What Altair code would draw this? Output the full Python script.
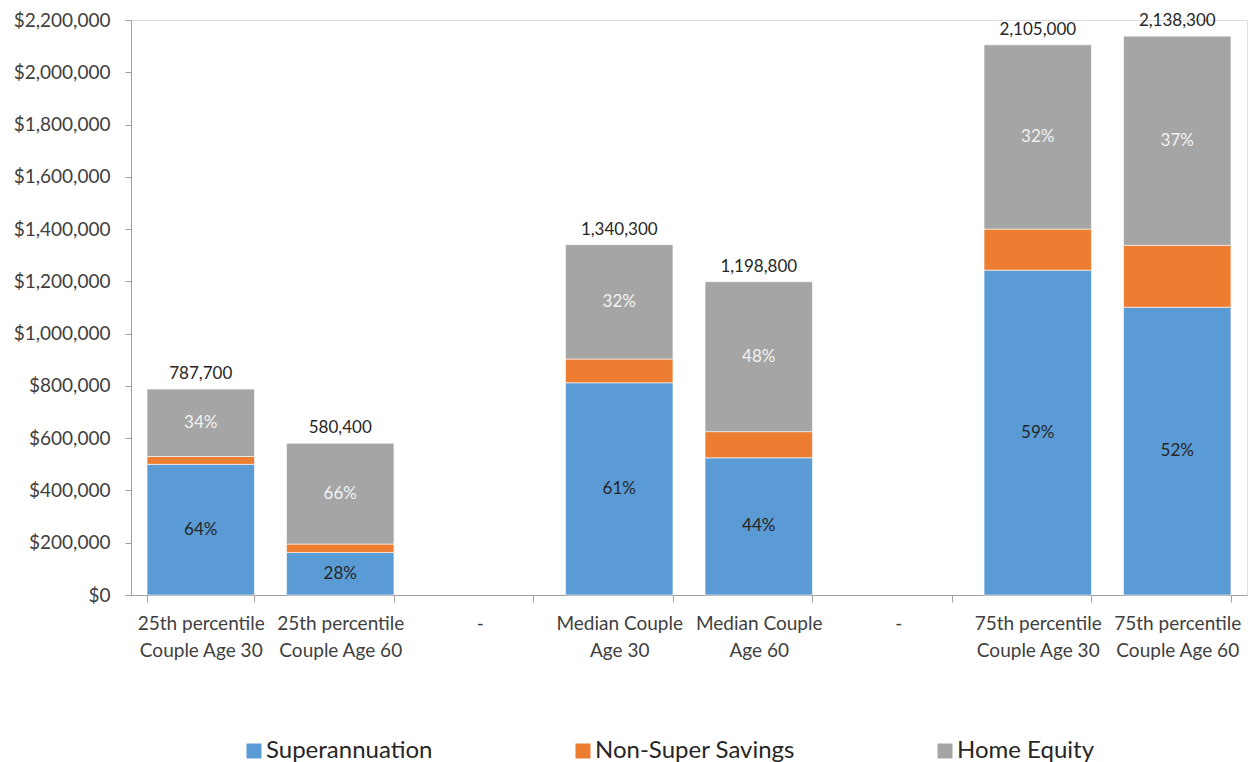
import altair as alt
import pandas as pd

categories = [
    "25th percentile|Couple Age 30",
    "25th percentile|Couple Age 60",
    "-",
    "Median Couple|Age 30",
    "Median Couple|Age 60",
    " -",
    "75th percentile|Couple Age 30",
    "75th percentile|Couple Age 60",
]
bar_categories = [categories[i] for i in (0, 1, 3, 4, 6, 7)]
series = ["Superannuation", "Non-Super Savings", "Home Equity"]
colors = ["#5B9BD5", "#ED7D31", "#A5A5A5"]
superannuation = [500000, 163000, 812000, 525000, 1243000, 1101000]
non_super = [30000, 32000, 91000, 100000, 157000, 237000]
home_equity = [257700, 385400, 437300, 573800, 705000, 800300]
super_pct = ["64%", "28%", "61%", "44%", "59%", "52%"]
home_pct = ["34%", "66%", "32%", "48%", "32%", "37%"]
y_ticks = [0, 200000, 400000, 600000, 800000, 1000000, 1200000,
           1400000, 1600000, 1800000, 2000000, 2200000]

rows = []
for i, cat in enumerate(bar_categories):
    rows.append({"cat": cat, "series": series[0], "ord": 0, "value": superannuation[i], "pct": super_pct[i]})
    rows.append({"cat": cat, "series": series[1], "ord": 1, "value": non_super[i], "pct": ""})
    rows.append({"cat": cat, "series": series[2], "ord": 2, "value": home_equity[i], "pct": home_pct[i]})
df = pd.DataFrame(rows)

FONT = "Lato"

x_enc = alt.X(
    "cat:N",
    title=None,
    scale=alt.Scale(domain=categories, paddingInner=0.23, paddingOuter=0.115),
    axis=alt.Axis(
        labelExpr="split(trim(datum.label), '|')",
        labelAngle=0,
        labelFont=FONT,
        labelFontSize=19,
        labelColor="#404040",
        labelLineHeight=27,
        labelPadding=12,
        tickBand="extent",
        tickSize=7,
        tickColor="#A0A0A0",
        domainColor="#A0A0A0",
        grid=False,
    ),
)

y_scale = alt.Scale(domain=[0, 2200000], nice=False, zero=True)

base = alt.Chart(df).transform_stack(
    stack="value",
    groupby=["cat"],
    as_=["v0", "v1"],
    sort=[alt.SortField("ord", order="ascending")],
)

bars = base.mark_bar(stroke="white", strokeWidth=0.6).encode(
    x=x_enc,
    y=alt.Y(
        "v0:Q",
        title=None,
        scale=y_scale,
        axis=alt.Axis(
            values=y_ticks,
            format="$,.0f",
            labelFont=FONT,
            labelFontSize=19,
            labelColor="#404040",
            labelPadding=15,
            tickSize=6,
            tickColor="#A0A0A0",
            domainColor="#A0A0A0",
            grid=False,
        ),
    ),
    y2="v1:Q",
    color=alt.Color(
        "series:N",
        scale=alt.Scale(domain=series, range=colors),
        legend=alt.Legend(
            orient="none",
            legendX=111,
            legendY=719,
            direction="horizontal",
            title=None,
            symbolType="square",
            symbolSize=225,
            symbolStrokeWidth=0,
            labelFont=FONT,
            labelFontSize=24,
            labelColor="#262626",
            labelOffset=0,
            labelLimit=0,
            columnPadding=138,
            padding=0,
        ),
    ),
)

mid = base.transform_calculate(mid="(datum.v0 + datum.v1) / 2")

super_text = mid.transform_filter(alt.datum.series == "Superannuation").mark_text(
    font=FONT, fontSize=17, color="#262626", baseline="middle"
).encode(x=alt.X("cat:N"), y=alt.Y("mid:Q"), text="pct:N")

home_text = mid.transform_filter(alt.datum.series == "Home Equity").mark_text(
    font=FONT, fontSize=17, color="#F2F2F2", baseline="middle"
).encode(x=alt.X("cat:N"), y=alt.Y("mid:Q"), text="pct:N")

totals = alt.Chart(df).transform_aggregate(
    total="sum(value)", groupby=["cat"]
).mark_text(font=FONT, fontSize=17, color="#262626", baseline="middle", dy=-15).encode(
    x=alt.X("cat:N"),
    y=alt.Y("total:Q"),
    text=alt.Text("total:Q", format=","),
)

chart = alt.layer(bars, super_text, home_text, totals).properties(
    width=1116,
    height=575,
    autosize=alt.AutoSizeParams(type="none"),
    padding={"left": 123, "top": 12, "right": 5, "bottom": 167},
).configure_view(stroke=None).configure(background="white")

chart.save("out.html", embed_options={"renderer": "svg", "actions": False})
